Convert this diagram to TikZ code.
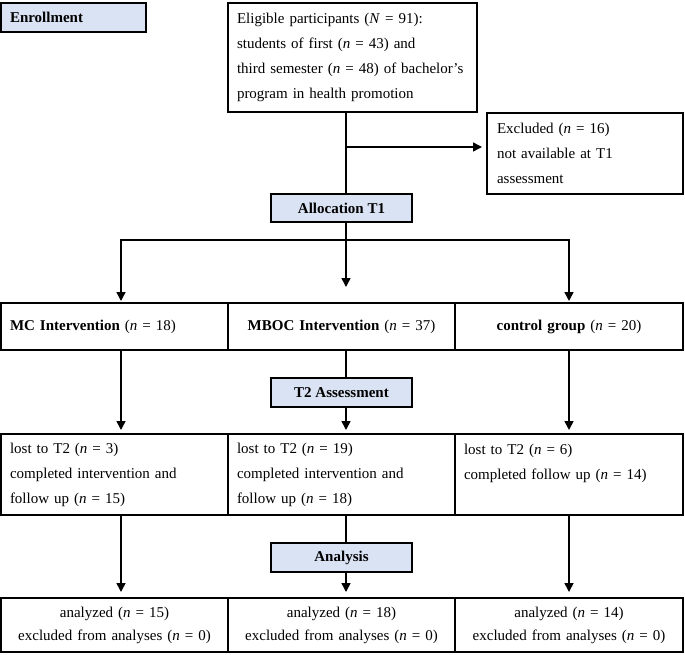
\documentclass[tikz,border=0pt]{standalone}
\usepackage{fontspec}
\setmainfont{Liberation Serif}
\usetikzlibrary{arrows.meta,calc}
\definecolor{hdrblue}{HTML}{DAE3F3}
\begin{document}
\begin{tikzpicture}[x=1pt,y=-1pt,
  every node/.style={font=\fontsize{15}{25}\selectfont, inner sep=0pt, outer sep=0pt},
  hdr/.style={draw=black, line width=1.8pt, fill=hdrblue, font=\fontsize{15}{25}\selectfont\bfseries},
  cell/.style={draw=black, line width=1.3pt},
  lcell/.style={cell, align=left, inner xsep=9pt},
  ccell/.style={cell, align=center, inner xsep=9pt},
  link/.style={line width=1.6pt},
  flow/.style={line width=1.6pt, -{Triangle[length=9pt,width=9pt]}, shorten >=4pt}]
\useasboundingbox (0,0) rectangle (685,654);

% coordinates for connector columns
\coordinate (xa) at (121,0);
\coordinate (xb) at (346,0);
\coordinate (xc) at (569,0);
\coordinate (hl) at (0,240);
\coordinate (ex) at (346,147);
\coordinate (mid1) at (346,287);

% header boxes
\node[hdr, align=left, inner xsep=9pt, text width=127pt, minimum height=29pt] (enr) at (73.5,17.5) {Enrollment};
\node[hdr, align=center, minimum width=141pt, minimum height=28pt] (alloc) at (341.5,208) {Allocation T1};
\node[hdr, align=center, minimum width=141pt, minimum height=29pt] (t2) at (341.5,392.5) {T2 Assessment};
\node[hdr, align=center, minimum width=141pt, minimum height=29pt] (ana) at (341.5,557.5) {Analysis};

% enrollment
\node[lcell, text width=231pt, minimum height=109pt] (elig) at (352.5,57.5)
  {Eligible participants (\textit{N} = 91):\\
   students of first (\textit{n} = 43) and\\
   third semester (\textit{n} = 48) of bachelor's\\
   program in health promotion};
\node[lcell, inner xsep=10pt, text width=176pt, minimum height=81pt] (excl) at (585,153.5)
  {Excluded (\textit{n} = 16)\\
   not available at T1\\
   assessment};

% row 1
\node[lcell, text width=209pt, minimum height=47pt] (mc) at (114.5,326.5)
  {\textbf{MC Intervention} (\textit{n} = 18)};
\node[ccell, text width=209pt, minimum height=47pt] (mboc) at (341.5,326.5)
  {\textbf{MBOC Intervention} (\textit{n} = 37)};
\node[ccell, text width=210pt, minimum height=47pt] (ctrl) at (569,326.5)
  {\textbf{control group} (\textit{n} = 20)};

% row 2
\node[lcell, text width=209pt, minimum height=81pt] (lost1) at (114.5,474.5)
  {lost to T2 (\textit{n} = 3)\\
   completed intervention and\\
   follow up (\textit{n} = 15)};
\node[lcell, text width=209pt, minimum height=81pt] (lost2) at (341.5,474.5)
  {lost to T2 (\textit{n} = 19)\\
   completed intervention and\\
   follow up (\textit{n} = 18)};
\node[lcell, text width=210pt, minimum height=81pt] (lost3) at (569,474.5)
  {lost to T2 (\textit{n} = 6)\\
   completed follow up (\textit{n} = 14)\\
   \phantom{x}};

% row 3
\node[ccell, text width=209pt, minimum height=54pt] (an1) at (114.5,625)
  {analyzed (\textit{n} = 15)\\[-2pt]
   excluded from analyses (\textit{n} = 0)};
\node[ccell, text width=209pt, minimum height=54pt] (an2) at (341.5,625)
  {analyzed (\textit{n} = 18)\\[-2pt]
   excluded from analyses (\textit{n} = 0)};
\node[ccell, text width=210pt, minimum height=54pt] (an3) at (569,625)
  {analyzed (\textit{n} = 14)\\[-2pt]
   excluded from analyses (\textit{n} = 0)};

% connectors: enrollment -> allocation
\draw[link] (xb |- elig.south) -- (xb |- alloc.north);
\draw[flow, shorten >=5pt] (ex) -- (excl.west |- ex);
\draw[link] (xb |- alloc.south) -- (xb |- hl);
\draw[link, line cap=rect] (xa |- hl) -- (xc |- hl);
\draw[flow, shorten >=2pt] (xa |- hl) -- (xa |- mc.north);
\draw[flow, shorten >=2pt] (xc |- hl) -- (xc |- ctrl.north);
\draw[flow, shorten >=0pt] (xb |- hl) -- (mid1);

% row 1 -> row 2
\draw[flow] (xa |- mc.south) -- (xa |- lost1.north);
\draw[link] (xb |- mboc.south) -- (xb |- t2.north);
\draw[flow] (xb |- t2.south) -- (xb |- lost2.north);
\draw[flow] (xc |- ctrl.south) -- (xc |- lost3.north);

% row 2 -> row 3
\draw[flow, shorten >=6pt] (xa |- lost1.south) -- (xa |- an1.north);
\draw[link] (xb |- lost2.south) -- (xb |- ana.north);
\draw[flow, shorten >=6pt] (xb |- ana.south) -- (xb |- an2.north);
\draw[flow, shorten >=6pt] (xc |- lost3.south) -- (xc |- an3.north);
\end{tikzpicture}
\end{document}
